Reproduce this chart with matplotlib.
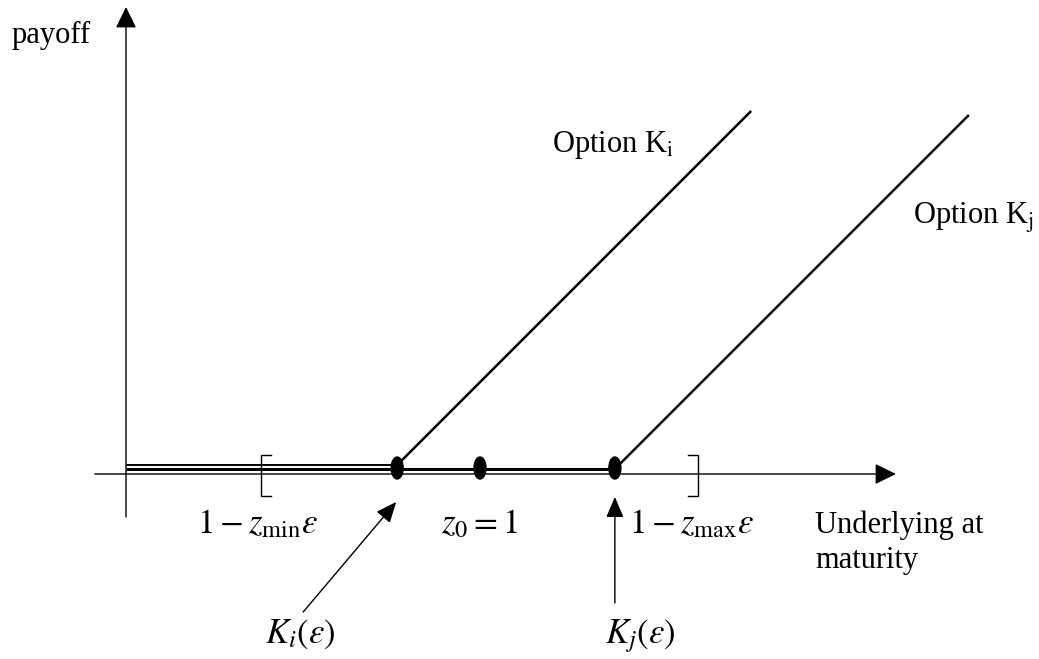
import matplotlib
matplotlib.use("Agg")
import matplotlib.pyplot as plt
from matplotlib.patches import Ellipse

# ---- data (underlying level / payoff units) ----
option_names = ["Option K$_{\\mathrm{i}}$", "Option K$_{\\mathrm{j}}$"]
strike_values = [0.766, 1.381]          # K_i(eps), K_j(eps)
strike_labels = [r"$K_i(\varepsilon)$", r"$K_j(\varepsilon)$"]
payoff_span = [1.0, 1.0]                # payoff rise drawn beyond each strike
z0_value = 1.0
z0_label = r"$z_0=1$"
range_bounds = [0.381, 1.616]           # 1 - z_min eps, 1 - z_max eps
range_labels = [r"$1-z_{\min}\varepsilon$", r"$1-z_{\max}\varepsilon$"]
axis_x_extent = [-0.088, 2.175]
axis_y_extent = [-0.121, 1.319]

# ---- figure / coordinate frame ----
W, H = 1039, 659
PX = 354.0                 # pixels per unit
OX, OY = 126.0, 474.0      # pixel position of origin
plt.rcParams["mathtext.fontset"] = "stix"
serif = "Liberation Serif"

fig = plt.figure(figsize=(W / 100, H / 100), dpi=100)
ax = fig.add_axes([0, 0, 1, 1])
ax.set_xlim(-OX / PX, (W - OX) / PX)
ax.set_ylim((OY - H) / PX, OY / PX)
ax.axis("off")

def u(px):  # pixel length -> units
    return px / PX

black = "black"
head = dict(arrowstyle="-|>,head_length=0.65,head_width=0.32", color=black,
            lw=1.0, mutation_scale=20, shrinkA=0, shrinkB=0)

# axes with arrows
ax.annotate("", xy=(axis_x_extent[1], 0), xytext=(axis_x_extent[0], 0), arrowprops=head)
ax.annotate("", xy=(0, axis_y_extent[1]), xytext=(0, axis_y_extent[0]), arrowprops=head)

# payoff lines (drawn slightly above the axis so they are visible)
offsets = [u(9), u(5)]
widths_flat = [1.4, 2.2]
for K, span, off, lwf in zip(strike_values, payoff_span, offsets, widths_flat):
    ax.plot([0, K], [off, off], color=black, lw=lwf, solid_capstyle="butt")
    ax.plot([K, K + span], [off, off + span], color=black, lw=1.8, solid_capstyle="butt")

# dots at strikes and z0
for xv in strike_values + [z0_value]:
    ax.add_patch(Ellipse((xv, u(6)), u(12), u(22), color=black, zorder=5))

# brackets
b_top, b_bot, serif_len = u(19), -u(22), u(10)
for xb, d in zip(range_bounds, [1, -1]):
    ax.plot([xb + d * serif_len, xb, xb, xb + d * serif_len],
            [b_top, b_top, b_bot, b_bot], color=black, lw=1.0)

# labels under axis
label_y = -u(59)
ax.text(range_bounds[0] - u(3), label_y, range_labels[0], fontsize=25, ha="center", va="baseline")
ax.text(z0_value - u(1), label_y, z0_label, fontsize=25, ha="center", va="baseline")
ax.text(range_bounds[1] - u(7), label_y, range_labels[1], fontsize=25, ha="center", va="baseline")

# pointer arrows to strikes
phead = dict(arrowstyle="-|>,head_length=0.7,head_width=0.3", color=black,
             lw=1.0, mutation_scale=18, shrinkA=0, shrinkB=0)
ax.annotate("", xy=(strike_values[0] - u(1), -u(28)), xytext=(strike_values[0] - u(94), -u(138)),
            arrowprops=phead)
ax.annotate("", xy=(strike_values[1], -u(23)), xytext=(strike_values[1], -u(129)),
            arrowprops=phead)
ax.text(strike_values[0] - u(97), -u(169), strike_labels[0], fontsize=25, ha="center", va="baseline")
ax.text(strike_values[1] + u(25), -u(169), strike_labels[1], fontsize=25, ha="center", va="baseline")

# option labels
ax.text(u(552 - OX), u(OY - 152), option_names[0], fontsize=22, family=serif, ha="left", va="baseline")
ax.text(u(913 - OX), u(OY - 224), option_names[1], fontsize=22, family=serif, ha="left", va="baseline")

# axis titles
ax.text(u(12 - OX), u(OY - 43), "payoff", fontsize=22, family=serif, ha="left", va="baseline")
ax.text(u(815 - OX), u(OY - 533), "Underlying at", fontsize=22, family=serif, ha="left", va="baseline")
ax.text(u(815 - OX), u(OY - 568), "maturity", fontsize=22, family=serif, ha="left", va="baseline")

fig.savefig("out.png", dpi=100, facecolor="white")
